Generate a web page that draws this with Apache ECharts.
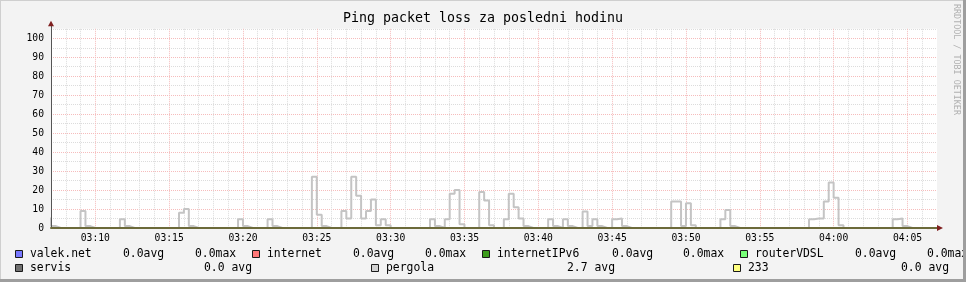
<!DOCTYPE html>
<html><head><meta charset="utf-8">
<script src="https://cdn.jsdelivr.net/npm/echarts@6/dist/echarts.min.js"></script>
<style>html,body{margin:0;padding:0;background:#f3f3f3}#c{width:966px;height:282px}</style>
</head><body><div id="c"></div>
<script>
// ---------------- data ----------------
const chartTitle = 'Ping packet loss za posledni hodinu';
const stepStartMinute = 6 + 40 / 60;   // first step starts 03:06:40 (minutes after 03:00)
const stepSeconds = 20;
// pergola packet loss (%) per 20 s step, one row per 5 minutes
const pergolaLoss = [
  5, 1, 0, 0, 0, 0, 0, 9, 1, 0,                              // 03:06:40-03:09:40
  0, 0, 0, 0, 0, 4.6, 1, 0, 0, 0, 0, 0, 0, 0, 0,             // 03:10
  0, 0, 8, 10, 1, 0, 0, 0, 0, 0, 0, 0, 0, 0, 4.6,            // 03:15
  1, 0, 0, 0, 0, 4.6, 1, 0, 0, 0, 0, 0, 0, 0, 27,            // 03:20
  7, 1, 0, 0, 0, 9, 5, 27, 17, 5, 9, 15, 1.5, 4.6, 1.5,      // 03:25
  0, 0, 0, 0, 0, 0, 0, 0, 4.6, 1, 0, 4.6, 18, 20, 2,         // 03:30
  0, 0, 0, 19, 14.5, 1.5, 0, 0, 4.6, 18, 11, 5, 1, 0, 0,     // 03:35
  0, 0, 4.6, 1, 0, 4.6, 1, 0, 0, 8.7, 1, 4.6, 1, 0, 0,       // 03:40
  4.6, 5, 1, 0, 0, 0, 0, 0, 0, 0, 0, 0, 14, 14, 1,           // 03:45
  13, 1.4, 0, 0, 0, 0, 0, 4.6, 9.5, 1, 0, 0, 0, 0, 0,        // 03:50
  0, 0, 0, 0, 0, 0, 0, 0, 0, 0, 4.6, 5, 5, 14, 24,           // 03:55
  16, 1.4, 0, 0, 0, 0, 0, 0, 0, 0, 0, 0, 4.6, 5, 1,          // 04:00
  0, 0, 0, 0, 0, 0                                           // 04:05
];
const xTickMinutes = [10, 15, 20, 25, 30, 35, 40, 45, 50, 55, 60, 65];
const xTickLabels = ['03:10', '03:15', '03:20', '03:25', '03:30', '03:35', '03:40', '03:45', '03:50', '03:55', '04:00', '04:05'];
const yTickValues = [0, 10, 20, 30, 40, 50, 60, 70, 80, 90, 100];
const yTickLabels = ['0', '10', '20', '30', '40', '50', '60', '70', '80', '90', '100'];
const legendNames = ['valek.net', 'internet', 'internetIPv6', 'routerVDSL', 'servis', 'pergola', '233'];
const legendAvg = ['0.0avg', '0.0avg', '0.0avg', '0.0avg', '0.0 avg', '2.7 avg', '0.0 avg'];
const legendMax = ['0.0max', '0.0max', '0.0max', '0.0max', '', '', ''];
const watermark = 'RRDTOOL / TOBI OETIKER';

// ---------------- styles / layout ----------------
const FONT = 'DejaVu Sans Mono';
const legendColors = ['#7878ff', '#ff7878', '#3c9c1c', '#78ff78', '#707070', '#d0d0d0', '#ffff80'];
const legendLayout = [
  {row: 0, sq: 15, name: 30, avg: 123, max: 195},
  {row: 0, sq: 252, name: 267, avg: 353, max: 425},
  {row: 0, sq: 482, name: 497, avg: 612, max: 683},
  {row: 0, sq: 740, name: 755, avg: 855, max: 927},
  {row: 1, sq: 15, name: 30, avg: 204},
  {row: 1, sq: 371, name: 386, avg: 567},
  {row: 1, sq: 733, name: 748, avg: 901}
];
const rowY = [254, 268];
const minorC = '#dcdcdc', majorC = '#f6bcbc';

const chart = echarts.init(document.getElementById('c'), null, {renderer: 'canvas', width: 966, height: 282});

const lineData = pergolaLoss.map((v, i) => [stepStartMinute + i * stepSeconds / 60, v]);
lineData.push([stepStartMinute + pergolaLoss.length * stepSeconds / 60, pergolaLoss[pergolaLoss.length - 1]]);

const option = {
  backgroundColor: '#f3f3f3',
  animation: false,
  title: {
    text: chartTitle, left: 'center', top: 12, padding: 0,
    textStyle: {fontFamily: FONT, fontSize: 13.3, fontWeight: 'normal', color: '#000'}
  },
  grid: {left: 51, right: 29, top: 28.8, bottom: 54, show: true, backgroundColor: '#ffffff', borderWidth: 0},
  xAxis: [
    {
      type: 'value', min: 7, max: 67, interval: 1,
      axisLine: {show: false}, axisTick: {show: false},
      axisLabel: {
        fontFamily: FONT, fontSize: 9.7, color: '#000', margin: 5,
        showMinLabel: true, showMaxLabel: true,
        formatter: v => { const i = xTickMinutes.indexOf(Math.round(v)); return (i >= 0 && Math.abs(v - Math.round(v)) < 1e-6) ? xTickLabels[i] : ''; }
      },
      splitLine: {show: true, showMaxLine: false, lineStyle: {color: [minorC, minorC, minorC, majorC, minorC], type: [1, 1], width: 1}}
    },
    {
      type: 'value', min: 7, max: 67, position: 'bottom', z: 5,
      axisLine: {show: true, lineStyle: {color: '#6c6a3a', width: 2}},
      axisTick: {show: false}, axisLabel: {show: false}, splitLine: {show: false}
    }
  ],
  yAxis: [
    {
      type: 'value', min: 0, max: 105, interval: 5, position: 'left',
      axisLine: {show: false}, axisTick: {show: false},
      axisLabel: {
        fontFamily: FONT, fontSize: 9.7, color: '#000', margin: 7,
        formatter: v => { const i = yTickValues.indexOf(Math.round(v)); return i >= 0 ? yTickLabels[i] : ''; }
      },
      splitLine: {show: true, lineStyle: {color: [majorC, minorC], type: [1, 1], width: 1}}
    },
    {
      type: 'value', min: 0, max: 105, position: 'left', z: 5,
      axisLine: {show: true, lineStyle: {color: '#555555', width: 1}},
      axisTick: {show: false}, axisLabel: {show: false}, splitLine: {show: false}
    }
  ],
  series: [{
    name: 'pergola', type: 'line', xAxisIndex: 0, yAxisIndex: 0,
    data: lineData, step: 'end', showSymbol: false, symbol: 'none',
    lineStyle: {color: '#c4c4c4', width: 2}, z: 2
  }]
};
chart.setOption(option);

// decorations placed through the axes' scales
const x0 = chart.convertToPixel({xAxisIndex: 0}, 7);
const x1 = chart.convertToPixel({xAxisIndex: 0}, 67);
const y0 = chart.convertToPixel({yAxisIndex: 0}, 0);
const yTop = chart.convertToPixel({yAxisIndex: 0}, 105);
const arrowC = '#7f1f1f';
const g = [];
// y axis extension + arrow
g.push({type: 'line', shape: {x1: Math.round(x0) + 0.5, y1: yTop, x2: Math.round(x0) + 0.5, y2: yTop - 3}, style: {stroke: '#555', lineWidth: 1}, z: 10});
g.push({type: 'polygon', shape: {points: [[x0, yTop - 8], [x0 - 3, yTop - 2.5], [x0 + 3, yTop - 2.5]]}, style: {fill: arrowC}, z: 10});
// x axis arrow
g.push({type: 'polygon', shape: {points: [[x1 + 6, y0], [x1, y0 - 3], [x1, y0 + 3]]}, style: {fill: arrowC}, z: 10});
// legend
legendNames.forEach((n, i) => {
  const L = legendLayout[i], y = rowY[L.row];
  g.push({type: 'rect', shape: {x: L.sq + 0.5, y: y - 3.5, width: 7, height: 7}, style: {fill: legendColors[i], stroke: '#1a1a1a', lineWidth: 1}, z: 10});
  const ts = {fontFamily: FONT, fontSize: 11.4, fill: '#000', textVerticalAlign: 'middle', textAlign: 'left'};
  g.push({type: 'text', x: L.name, y: y, style: Object.assign({text: n}, ts), z: 10});
  g.push({type: 'text', x: L.avg, y: y, style: Object.assign({text: legendAvg[i]}, ts), z: 10});
  if (legendMax[i]) g.push({type: 'text', x: L.max, y: y, style: Object.assign({text: legendMax[i]}, ts), z: 10});
});
// watermark
g.push({type: 'text', x: 956, y: 4, rotation: -Math.PI / 2, style: {text: watermark, fontFamily: FONT, fontSize: 8.4, fill: '#b0b0b0', textAlign: 'left', textVerticalAlign: 'middle'}, z: 10});
// frame shading
g.push({type: 'rect', shape: {x: 0, y: 0, width: 966, height: 1}, style: {fill: '#cfcfcf'}, z: 20});
g.push({type: 'rect', shape: {x: 0, y: 0, width: 1, height: 282}, style: {fill: '#cfcfcf'}, z: 20});
g.push({type: 'rect', shape: {x: 963, y: 0, width: 3, height: 282}, style: {fill: '#9e9e9e'}, z: 20});
g.push({type: 'rect', shape: {x: 0, y: 279, width: 966, height: 3}, style: {fill: '#9e9e9e'}, z: 20});
chart.setOption({graphic: g});
</script>
</body></html>
